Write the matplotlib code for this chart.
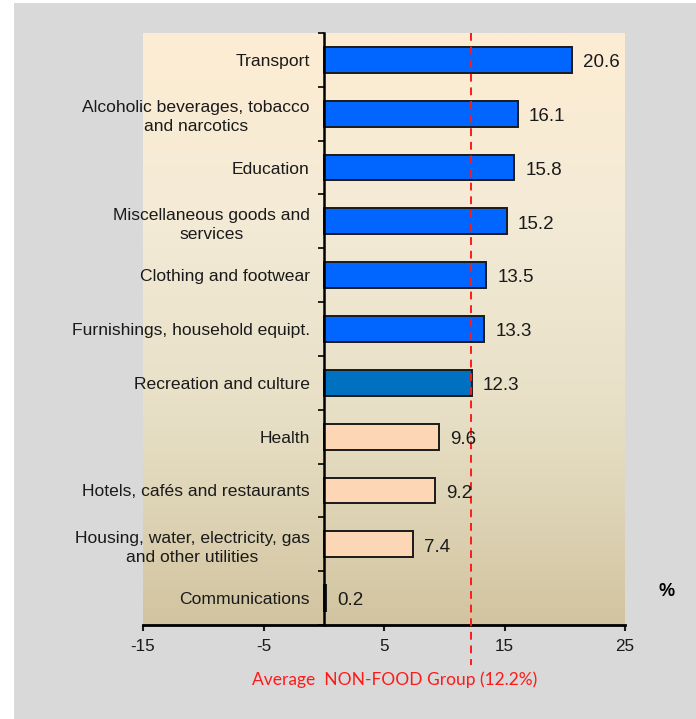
import numpy as np
import matplotlib
matplotlib.use("Agg")
import matplotlib.pyplot as plt
import matplotlib.transforms as mtransforms
from matplotlib.colors import LinearSegmentedColormap
from matplotlib.patches import Rectangle

# data (top to bottom as shown)
categories = [
    "Transport",
    "Alcoholic beverages, tobacco\nand narcotics",
    "Education",
    "Miscellaneous goods and\nservices",
    "Clothing and footwear",
    "Furnishings, household equipt.",
    "Recreation and culture",
    "Health",
    "Hotels, cafés and restaurants",
    "Housing, water, electricity, gas\nand other utilities",
    "Communications",
]
values = [20.6, 16.1, 15.8, 15.2, 13.5, 13.3, 12.3, 9.6, 9.2, 7.4, 0.2]
average = 12.2
avg_label = "Average  NON-FOOD Group (12.2%)"
xticks = [-15, -5, 5, 15, 25]

# colours: above average bright blue, the average group dark blue, below peach
bar_colors = ["#0066ff"] * 6 + ["#0070c0"] + ["#fdd6b6"] * 4

plt.rcParams['font.family'] = ['Liberation Sans', 'DejaVu Sans']

fig = plt.figure(figsize=(6.96, 7.19), dpi=100)
fig.patch.set_facecolor("white")
# grey frame behind the chart
fig.patches.append(Rectangle((14 / 696, 0), 1, 1 - 3 / 719, transform=fig.transFigure,
                             facecolor="#d9d9d9", edgecolor="none", zorder=-10))

ax = fig.add_axes([143 / 696, 1 - 625 / 719, 482 / 696, 592 / 719])
ax.set_facecolor("none")

# gradient panel
grad = LinearSegmentedColormap.from_list("panel", ["#fdedd3", "#f3ead6", "#e6dec4", "#d2c4a0"])
ax.imshow(np.linspace(0, 1, 256).reshape(-1, 1), cmap=grad, aspect="auto",
          extent=(0, 1, 0, 1), transform=ax.transAxes, zorder=0)

y = np.arange(len(categories))
ax.barh(y, values, height=0.48, color=bar_colors, edgecolor="#1a1a1a", linewidth=1.4, zorder=2)

for yi, v in zip(y, values):
    ax.annotate(f"{v}", (v, yi), xytext=(8, -2), textcoords="offset points",
                ha="left", va="center", fontsize=13.5, color="#1a1a1a", zorder=4)

ax.set_xlim(-15, 25)
ax.set_ylim(len(categories) - 0.5, -0.5)

# y axis at zero
ax.spines["left"].set_position(("data", 0))
ax.spines["left"].set_linewidth(1.8)
ax.spines["bottom"].set_linewidth(2)
ax.spines["top"].set_visible(False)
ax.spines["right"].set_visible(False)

ax.set_yticks(y)
ax.set_yticklabels(categories, fontsize=12.6, multialignment="center", color="#1a1a1a",
                   linespacing=1.35)
ax.set_yticks(np.arange(-0.5, len(categories), 1), minor=True)
ax.tick_params(axis="y", which="major", length=0, pad=10)
ax.tick_params(axis="y", which="minor", length=4, width=1.2, direction="out")

ax.set_xticks(xticks)
ax.set_xticklabels([str(t) for t in xticks], fontsize=12.3)
ax.tick_params(axis="x", length=4, width=1.5, direction="out", pad=6, colors="#1a1a1a")

# average line, runs down to the label under the axis
trans = mtransforms.blended_transform_factory(ax.transData, ax.transAxes)
ax.plot([average, average], [1, -40 / 592], transform=trans, color="#ff1a1a",
        linestyle=(0, (4, 3)), linewidth=1.4, clip_on=False, zorder=3)
fig.text(395 / 696, 1 - 680 / 719, avg_label, color="#ff1a1a", fontsize=12.5,
         family=["Lato", "DejaVu Sans"], ha="center", va="center")

fig.text(667 / 696, 1 - 592 / 719, "%", fontsize=13, fontweight="bold", ha="center", va="center")

fig.savefig("out.png", dpi=100)
